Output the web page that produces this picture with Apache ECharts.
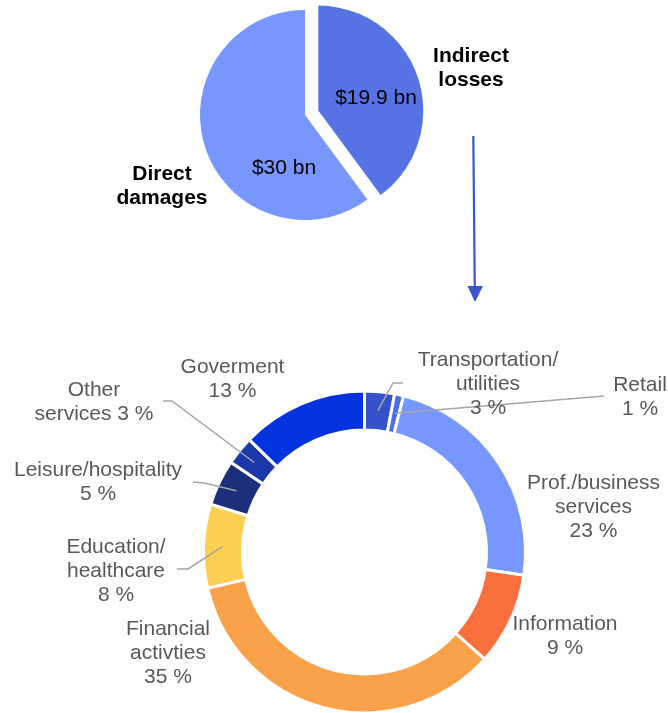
<!DOCTYPE html>
<html><head><meta charset="utf-8">
<script src="https://cdn.jsdelivr.net/npm/echarts@6/dist/echarts.min.js"></script>
<style>html,body{margin:0;padding:0;background:#fff}#c{width:668px;height:713px}</style>
</head><body><div id="c"></div>
<script>
// ---- data ----
const lossCategories = ['Indirect losses', 'Direct damages'];
const lossValues = [19.9, 30];

const sectorNames = ['Transportation/\nutilities', 'Retail', 'Prof./business\nservices', 'Information',
  'Financial\nactivties', 'Education/\nhealthcare', 'Leisure/hospitality', 'Other\nservices', 'Goverment'];
const sectorShares = [3.0, 0.9, 23.4, 9.3, 34.8, 8.4, 4.6, 2.9, 12.7];

// ---- styles / layout ----
const FONT = "'Liberation Sans', Arial, sans-serif";
const lossColors = ['#5573E4', '#7797FF'];
const sectorColors = ['#3452C9', '#4A6EE8', '#7797FF', '#F9703D', '#F9A24A', '#FBD052', '#1D2E7A', '#1A38A8', '#0333DE'];
const pieCenter = [305, 115], pieR = 105, explode = 14;
const lossLabelPos = [[376, 98], [284, 168]];
const lossTitlePos = [[471, 44], [162, 162]];
const CX = 364.5, CY = 552, R0 = 122, R1 = 161, RLINE = 142;
const sectorLabelPos = [[488, 360], [640, 385.5], [593.5, 483], [565, 624], [168, 629], [116, 547], [98, 470.5], [94, 390], [232.5, 367.5]];
const sectorSep = ['\n', '\n', '\n', '\n', '\n', '\n', '\n', ' ', '\n'];
const lineBends = {
  0: [[393, 383], [403, 383]],
  5: [[188, 569], [177, 569]],
  6: [[204, 483], [193, 482]],
  7: [[172, 401], [163, 401]]
};
const retailEnd = [604, 396];

// exploded slice offset along its mid angle
const lossTotal = lossValues.reduce((a, b) => a + b, 0);
const exMid = lossValues[0] / 2 / lossTotal * Math.PI * 2;
const exCenter = [pieCenter[0] + explode * Math.sin(exMid), pieCenter[1] - explode * Math.cos(exMid)];

// label line start points from slice mid angles
const total = sectorShares.reduce((a, b) => a + b, 0);
let acc = 0;
const lineStart = sectorShares.map(v => {
  const mid = (acc + v / 2) / total * Math.PI * 2;
  acc += v;
  return [CX + RLINE * Math.sin(mid), CY - RLINE * Math.cos(mid)];
});
function linePts(i) {
  if (i === 1) {
    const s = lineStart[1];
    return [s, [(s[0] + retailEnd[0]) / 2, (s[1] + retailEnd[1]) / 2], retailEnd];
  }
  if (lineBends[i]) return [lineStart[i], lineBends[i][0], lineBends[i][1]];
  return null;
}

function lossSeries(which, center) {
  return {
    type: 'pie', center: center, radius: [0, pieR], startAngle: 90, clockwise: true,
    avoidLabelOverlap: false, emphasis: {disabled: true}, silent: true,
    data: lossCategories.map((n, i) => ({name: n, value: lossValues[i],
      itemStyle: {color: i === which ? lossColors[i] : 'rgba(0,0,0,0)'},
      label: {show: i === which}})),
    label: {position: 'inside', color: '#000', fontSize: 21, fontFamily: FONT,
      formatter: p => '$' + p.value + ' bn'},
    labelLine: {show: false},
    labelLayout: p => ({x: lossLabelPos[p.dataIndex][0], y: lossLabelPos[p.dataIndex][1],
      align: 'center', verticalAlign: 'middle'})
  };
}

const chart = echarts.init(document.getElementById('c'), null, {renderer: 'canvas'});
chart.setOption({
  animation: false,
  backgroundColor: '#fff',
  graphic: [
    ...lossCategories.map((n, i) => ({
      type: 'text', x: lossTitlePos[i][0], y: lossTitlePos[i][1], silent: true,
      style: {text: n.replace(' ', '\n'), fill: '#000', font: 'bold 21px ' + FONT, lineHeight: 24,
        align: 'center', verticalAlign: 'top'}
    })),
    {type: 'polyline', silent: true, shape: {points: [[473.3, 136], [474.8, 290]]},
      style: {stroke: '#3A55D0', lineWidth: 2.2, fill: null}},
    {type: 'polygon', silent: true, shape: {points: [[467.5, 286], [483, 286], [475, 302]]},
      style: {fill: '#3A55D0'}}
  ],
  series: [
    lossSeries(0, exCenter),
    lossSeries(1, pieCenter),
    {
      type: 'pie', center: [CX, CY], radius: [R0, R1], startAngle: 90, clockwise: true,
      avoidLabelOverlap: false, emphasis: {disabled: true}, silent: true,
      itemStyle: {borderColor: '#fff', borderWidth: 3},
      data: sectorNames.map((n, i) => ({name: n, value: sectorShares[i],
        itemStyle: {color: sectorColors[i]}})),
      label: {show: false}, labelLine: {show: false}
    },
    {
      // overlay carrying labels and leader lines above the ring
      type: 'pie', z: 5, center: [CX, CY], radius: [R0, R1], startAngle: 90, clockwise: true,
      avoidLabelOverlap: false, emphasis: {disabled: true}, silent: true,
      itemStyle: {color: 'rgba(0,0,0,0)', borderWidth: 0},
      data: sectorNames.map((n, i) => ({name: n, value: sectorShares[i],
        labelLine: {show: !!linePts(i)}})),
      label: {show: true, position: 'outside', color: '#595959', fontSize: 21, fontFamily: FONT,
        lineHeight: 24, align: 'center',
        formatter: p => p.name + sectorSep[p.dataIndex] + Math.round(p.percent) + ' %'},
      labelLine: {lineStyle: {color: '#A6A6A6', width: 1.5}, length: 10, length2: 10},
      labelLayout: p => {
        const i = p.dataIndex;
        const o = {x: sectorLabelPos[i][0], y: sectorLabelPos[i][1] - 12, align: 'center', verticalAlign: 'top'};
        const pts = linePts(i);
        if (pts) o.labelLinePoints = pts;
        return o;
      }
    }
  ]
});
</script>
</body></html>
